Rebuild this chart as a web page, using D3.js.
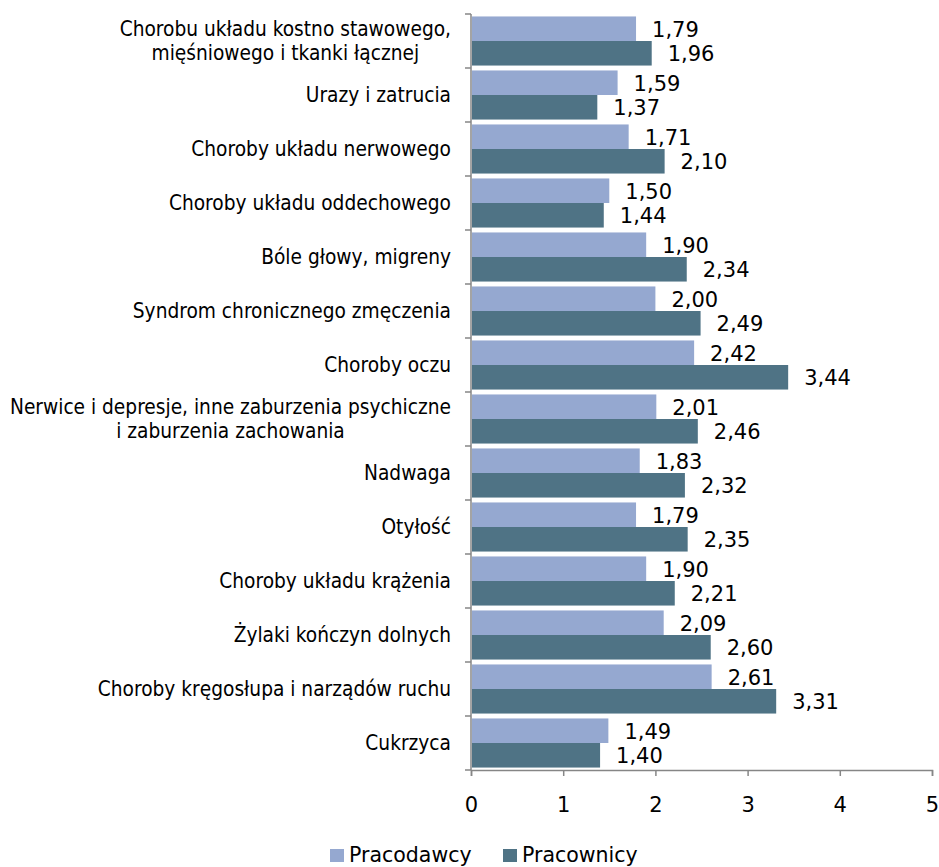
<!DOCTYPE html>
<html>
<head>
<meta charset="utf-8">
<script src="https://cdn.jsdelivr.net/npm/d3@7"></script>
<style>
  html, body { margin: 0; padding: 0; background: #fff; }
  svg text { fill: #000; }
  .cat { font-family: "DejaVu Sans Condensed", "DejaVu Sans", sans-serif; font-size: 20.7px; }
  .val { font-family: "DejaVu Sans", sans-serif; font-size: 21px; }
  .leg { font-family: "DejaVu Sans", sans-serif; font-size: 20.5px; }
</style>
</head>
<body>
<svg id="chart" width="939" height="867"></svg>
<script>
// Categories, top to bottom; "\n" marks a line break in the label
const categories = [
  "Chorobu układu kostno stawowego,\nmięśniowego i tkanki łącznej",
  "Urazy i zatrucia",
  "Choroby układu nerwowego",
  "Choroby układu oddechowego",
  "Bóle głowy, migreny",
  "Syndrom chronicznego zmęczenia",
  "Choroby oczu",
  "Nerwice i depresje, inne zaburzenia psychiczne\ni zaburzenia zachowania",
  "Nadwaga",
  "Otyłość",
  "Choroby układu krążenia",
  "Żylaki kończyn dolnych",
  "Choroby kręgosłupa i narządów ruchu",
  "Cukrzyca"
];
const pracodawcy = [1.79, 1.59, 1.71, 1.50, 1.90, 2.00, 2.42, 2.01, 1.83, 1.79, 1.90, 2.09, 2.61, 1.49];
const pracownicy = [1.96, 1.37, 2.10, 1.44, 2.34, 2.49, 3.44, 2.46, 2.32, 2.35, 2.21, 2.60, 3.31, 1.40];
const seriesNames = ["Pracodawcy", "Pracownicy"];
const xTicks = [0, 1, 2, 3, 4, 5];

const colors = ["#95A8D0", "#4F7385"];
const axisColor = "#868686";
const fmt = v => v.toFixed(2).replace(".", ",");

const svg = d3.select("#chart");
const plot = { left: 471, right: 932, top: 14, bottom: 770 };

const x = d3.scaleLinear().domain([0, 5]).range([plot.left, plot.right]);
const y = d3.scaleBand().domain(categories).range([plot.top, plot.bottom]).paddingInner(0).paddingOuter(0);
const inner = d3.scaleBand().domain(seriesNames).range([0, y.bandwidth()]).paddingInner(0).paddingOuter(0.1);

const series = [pracodawcy, pracownicy];

// Bars
const g = svg.append("g");
series.forEach((vals, si) => {
  g.selectAll(null)
    .data(categories)
    .enter()
    .append("rect")
    .attr("x", x(0) + 1)
    .attr("y", d => y(d) + inner(seriesNames[si]))
    .attr("width", (d, i) => x(vals[i]) - x(0) - 1)
    .attr("height", inner.bandwidth())
    .attr("fill", colors[si]);
});

// Value labels
series.forEach((vals, si) => {
  g.selectAll(null)
    .data(categories)
    .enter()
    .append("text")
    .attr("class", "val")
    .attr("x", (d, i) => x(vals[i]) + 16)
    .attr("y", d => y(d) + inner(seriesNames[si]) + inner.bandwidth() / 2 + 8)
    .text((d, i) => fmt(vals[i]));
});

// Y axis: line with ticks at category boundaries
const yAxis = svg.append("g");
yAxis.append("line")
  .attr("x1", plot.left).attr("x2", plot.left)
  .attr("y1", plot.top).attr("y2", plot.bottom)
  .attr("stroke", axisColor).attr("stroke-width", 1.5);
const boundaries = categories.map(c => y(c)).concat([plot.bottom]);
yAxis.selectAll(null).data(boundaries).enter().append("line")
  .attr("x1", plot.left - 6).attr("x2", plot.left)
  .attr("y1", d => d).attr("y2", d => d)
  .attr("stroke", axisColor).attr("stroke-width", 1.5);

// Category labels (multi-line labels are centred as a block)
const labelRight = plot.left - 20;
const lineH = 24;
categories.forEach(c => {
  const lines = c.split("\n");
  const cy = y(c) + y.bandwidth() / 2;
  const t = svg.append("text").attr("class", "cat");
  if (lines.length === 1) {
    t.attr("text-anchor", "end")
      .attr("x", labelRight)
      .attr("y", cy + 7)
      .text(lines[0]);
  } else {
    lines.forEach((ln, li) => {
      t.append("tspan")
        .attr("x", 0)
        .attr("y", cy + 7 + (li - (lines.length - 1) / 2) * lineH)
        .attr("text-anchor", "middle")
        .text(ln);
    });
    const w = t.node().getBBox().width;
    t.attr("transform", `translate(${labelRight - w / 2},0)`);
  }
});

// X axis
const xAxis = svg.append("g").attr("transform", `translate(0,${plot.bottom})`)
  .call(d3.axisBottom(x).tickValues(xTicks).tickSize(6).tickPadding(21).tickFormat(d3.format("d")));
xAxis.select(".domain").attr("stroke", axisColor).attr("stroke-width", 1.5);
xAxis.selectAll(".tick line").attr("stroke", axisColor).attr("stroke-width", 1.5);
xAxis.selectAll(".tick text")
  .attr("font-size", 21)
  .attr("font-family", "DejaVu Sans, sans-serif")
  .attr("fill", "#000");

// Legend
const legend = svg.append("g");
const legendItems = [
  { name: seriesNames[0], color: colors[0], x: 330 },
  { name: seriesNames[1], color: colors[1], x: 503 }
];
legendItems.forEach(it => {
  legend.append("rect")
    .attr("x", it.x).attr("y", 849)
    .attr("width", 14).attr("height", 13)
    .attr("fill", it.color);
  legend.append("text")
    .attr("class", "leg")
    .attr("x", it.x + 19).attr("y", 862)
    .text(it.name);
});
</script>
</body>
</html>
